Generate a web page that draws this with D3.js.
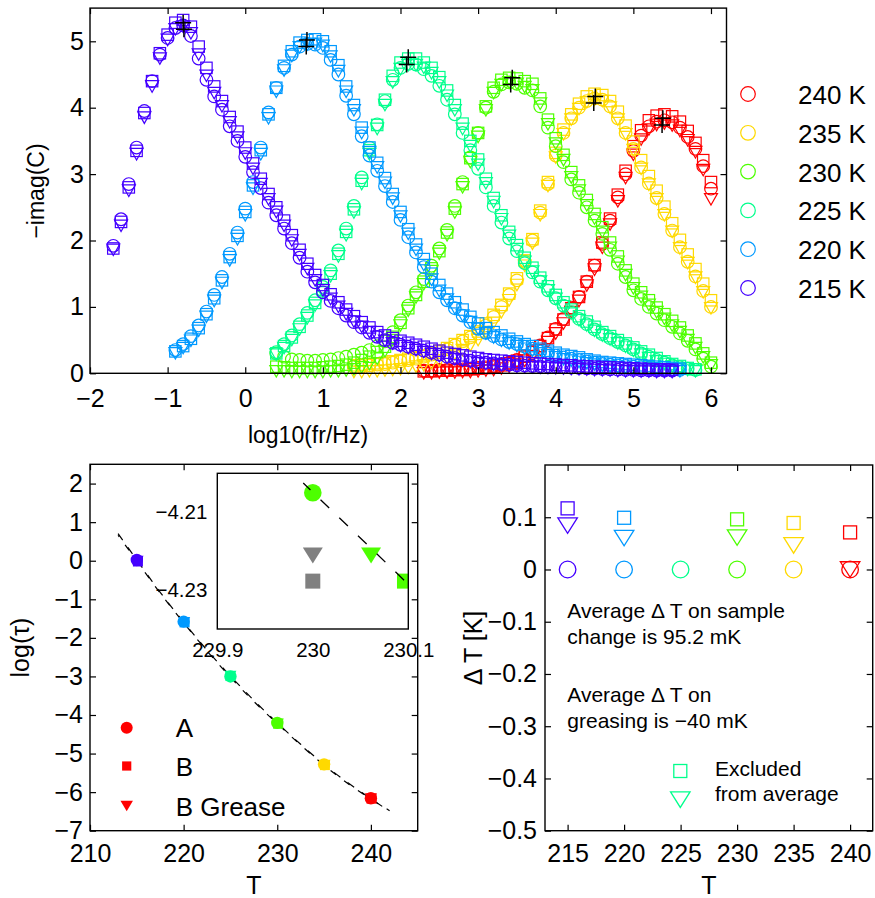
<!DOCTYPE html>
<html>
<head>
<meta charset="utf-8">
<script src="https://cdn.jsdelivr.net/npm/d3@7"></script>
<style>
html,body{margin:0;padding:0;background:#fff;}
svg{display:block;}
</style>
</head>
<body>
<svg id="chart" width="875" height="898"></svg>
<script>
// ================= DATA =================
// ---- top panel: loss peaks, x = log10(fr/Hz), y = -imag(C) ----
const temperatures = [240, 235, 230, 225, 220, 215];
const tempColors = ['#ff0000', '#ffd900', '#4dff00', '#00ff8c', '#0099ff', '#4400ff'];
const legendLabels = ['240 K', '235 K', '230 K', '225 K', '220 K', '215 K'];

const logf215 = [-1.7,-1.6,-1.5,-1.4,-1.3,-1.2,-1.1,-1.0,-0.9,-0.8,-0.7,-0.6,-0.5,-0.4,-0.3,-0.2,-0.1,0.0,0.1,0.2,0.3,0.4,0.5,0.6,0.7,0.8,0.9,1.0,1.1,1.2,1.3,1.4,1.5,1.6,1.7,1.8,1.9,2.0,2.1,2.2,2.3,2.4,2.5,2.6,2.7,2.8,2.9,3.0,3.1,3.2,3.3,3.4,3.5,3.6,3.7,3.8,3.9,4.0,4.1,4.2,4.3,4.4,4.5,4.6,4.7,4.8,4.9,5.0,5.1,5.2,5.3,5.4,5.5];
const circ215 = [1.92,2.32,2.85,3.40,3.95,4.40,4.80,5.05,5.20,5.24,5.08,4.74,4.42,4.17,3.97,3.72,3.50,3.26,3.03,2.79,2.57,2.38,2.18,1.96,1.74,1.53,1.37,1.22,1.09,0.98,0.87,0.77,0.69,0.61,0.55,0.50,0.46,0.43,0.40,0.37,0.34,0.31,0.28,0.25,0.23,0.21,0.19,0.17,0.16,0.15,0.14,0.13,0.12,0.115,0.11,0.105,0.10,0.095,0.09,0.085,0.08,0.075,0.07,0.065,0.06,0.055,0.05,0.05,0.045,0.045,0.04,0.04,0.04];
const sq215 = [1.88,2.28,2.80,3.35,3.92,4.40,4.82,5.10,5.28,5.32,5.22,4.92,4.60,4.32,4.10,3.86,3.64,3.40,3.16,2.93,2.70,2.50,2.30,2.08,1.86,1.65,1.48,1.33,1.19,1.07,0.96,0.86,0.77,0.69,0.62,0.57,0.53,0.49,0.46,0.43,0.40,0.37,0.34,0.31,0.29,0.27,0.25,0.23,0.21,0.20,0.19,0.18,0.17,0.16,0.15,0.145,0.14,0.13,0.125,0.12,0.11,0.105,0.10,0.095,0.09,0.085,0.08,0.075,0.07,0.065,0.06,0.06,0.055];
const tri215 = [1.86,2.22,2.75,3.30,3.85,4.32,4.74,5.02,5.18,5.22,5.12,4.80,4.48,4.22,4.02,3.78,3.55,3.31,3.08,2.85,2.62,2.43,2.22,2.00,1.78,1.57,1.40,1.25,1.12,1.00,0.89,0.78,0.70,0.62,0.55,0.49,0.45,0.41,0.38,0.35,0.32,0.29,0.26,0.23,0.21,0.19,0.17,0.15,0.14,0.13,0.12,0.11,0.10,0.095,0.09,0.085,0.08,0.075,0.07,0.065,0.06,0.055,0.05,0.045,0.04,0.035,0.03,0.03,0.025,0.025,0.02,0.02,0.02];

const logf220 = [-0.9,-0.8,-0.7,-0.6,-0.5,-0.4,-0.3,-0.2,-0.1,0.0,0.1,0.2,0.3,0.4,0.5,0.6,0.7,0.8,0.9,1.0,1.1,1.2,1.3,1.4,1.5,1.6,1.7,1.8,1.9,2.0,2.1,2.2,2.3,2.4,2.5,2.6,2.7,2.8,2.9,3.0,3.1,3.2,3.3,3.4,3.5,3.6,3.7,3.8,3.9,4.0,4.1,4.2,4.3,4.4,4.5,4.6,4.7,4.8,4.9,5.0,5.1,5.2,5.3,5.4,5.5,5.6];
const circ220 = [0.35,0.44,0.56,0.72,0.93,1.18,1.45,1.80,2.12,2.48,2.88,3.40,3.93,4.30,4.60,4.80,4.92,4.96,4.95,4.90,4.72,4.50,4.18,3.90,3.57,3.28,3.05,2.82,2.58,2.31,2.05,1.82,1.60,1.38,1.22,1.10,0.98,0.87,0.77,0.67,0.61,0.56,0.51,0.47,0.44,0.40,0.37,0.33,0.30,0.27,0.24,0.22,0.20,0.18,0.16,0.14,0.13,0.12,0.11,0.10,0.09,0.08,0.07,0.06,0.05,0.05];
const sq220 = [0.33,0.41,0.52,0.68,0.89,1.13,1.40,1.75,2.07,2.43,2.83,3.36,3.90,4.30,4.63,4.85,4.98,5.02,5.03,5.00,4.85,4.64,4.32,4.04,3.70,3.40,3.17,2.94,2.70,2.43,2.17,1.94,1.72,1.50,1.33,1.20,1.07,0.96,0.85,0.75,0.68,0.62,0.57,0.52,0.48,0.44,0.41,0.37,0.34,0.31,0.28,0.26,0.24,0.21,0.19,0.17,0.16,0.15,0.14,0.13,0.12,0.11,0.10,0.09,0.08,0.07];
const tri220 = [0.30,0.38,0.49,0.64,0.85,1.09,1.36,1.70,2.02,2.38,2.78,3.30,3.84,4.24,4.56,4.78,4.91,4.95,4.96,4.93,4.77,4.55,4.24,3.96,3.62,3.33,3.10,2.87,2.63,2.36,2.10,1.86,1.63,1.41,1.24,1.11,0.98,0.87,0.77,0.67,0.60,0.54,0.49,0.45,0.41,0.37,0.34,0.30,0.27,0.24,0.21,0.19,0.17,0.15,0.13,0.11,0.10,0.09,0.08,0.07,0.06,0.05,0.04,0.04,0.03,0.03];

const logf225 = [0.4,0.5,0.6,0.7,0.8,0.9,1.0,1.1,1.2,1.3,1.4,1.5,1.6,1.7,1.8,1.9,2.0,2.1,2.2,2.3,2.4,2.5,2.6,2.7,2.8,2.9,3.0,3.1,3.2,3.3,3.4,3.5,3.6,3.7,3.8,3.9,4.0,4.1,4.2,4.3,4.4,4.5,4.6,4.7,4.8,4.9,5.0,5.1,5.2,5.3,5.4,5.5,5.6,5.7,5.8];
const circ225 = [0.32,0.44,0.57,0.74,0.91,1.10,1.30,1.55,1.85,2.18,2.52,2.95,3.40,3.75,4.10,4.42,4.60,4.66,4.65,4.58,4.48,4.33,4.12,3.90,3.62,3.36,3.08,2.80,2.52,2.27,2.03,1.84,1.66,1.52,1.38,1.25,1.13,1.02,0.92,0.82,0.74,0.66,0.59,0.53,0.47,0.42,0.36,0.30,0.25,0.20,0.16,0.12,0.09,0.07,0.05];
const sq225 = [0.30,0.41,0.54,0.70,0.87,1.06,1.26,1.50,1.80,2.13,2.47,2.90,3.36,3.74,4.12,4.48,4.68,4.74,4.74,4.68,4.60,4.46,4.26,4.04,3.76,3.50,3.22,2.93,2.64,2.38,2.13,1.93,1.74,1.59,1.44,1.31,1.18,1.07,0.96,0.86,0.78,0.70,0.62,0.56,0.50,0.45,0.39,0.33,0.28,0.23,0.18,0.14,0.11,0.08,0.06];
const tri225 = [0.28,0.38,0.50,0.66,0.83,1.02,1.22,1.46,1.76,2.08,2.42,2.85,3.30,3.68,4.04,4.38,4.58,4.64,4.64,4.60,4.52,4.38,4.18,3.96,3.68,3.42,3.14,2.86,2.58,2.32,2.07,1.87,1.68,1.53,1.38,1.25,1.12,1.01,0.90,0.80,0.72,0.64,0.57,0.51,0.45,0.40,0.34,0.28,0.23,0.18,0.14,0.10,0.07,0.05,0.03];

const logf230 = [0.4,0.5,0.6,0.7,0.8,0.9,1.0,1.1,1.2,1.3,1.4,1.5,1.6,1.7,1.8,1.9,2.0,2.1,2.2,2.3,2.4,2.5,2.6,2.7,2.8,2.9,3.0,3.1,3.2,3.3,3.4,3.5,3.6,3.7,3.8,3.9,4.0,4.1,4.2,4.3,4.4,4.5,4.6,4.7,4.8,4.9,5.0,5.1,5.2,5.3,5.4,5.5,5.6,5.7,5.8,5.9,6.0];
const circ230 = [0.30,0.25,0.21,0.20,0.19,0.19,0.20,0.21,0.23,0.25,0.28,0.31,0.35,0.41,0.48,0.62,0.80,1.02,1.22,1.42,1.62,1.88,2.16,2.52,2.88,3.25,3.62,4.00,4.24,4.35,4.38,4.36,4.30,4.26,4.02,3.70,3.42,3.18,2.92,2.72,2.50,2.30,2.10,1.86,1.65,1.45,1.25,1.12,1.00,0.90,0.80,0.70,0.60,0.49,0.36,0.22,0.10];
const sq230 = [0.10,0.09,0.08,0.08,0.08,0.08,0.09,0.10,0.11,0.13,0.16,0.20,0.25,0.32,0.40,0.55,0.76,0.98,1.18,1.38,1.58,1.84,2.12,2.48,2.85,3.24,3.62,4.02,4.30,4.42,4.45,4.44,4.40,4.36,4.14,3.82,3.54,3.29,3.03,2.83,2.61,2.40,2.20,1.97,1.76,1.55,1.35,1.22,1.10,0.99,0.89,0.79,0.69,0.57,0.45,0.30,0.16];
const tri230 = [0.03,0.03,0.02,0.02,0.02,0.02,0.02,0.03,0.03,0.04,0.06,0.09,0.14,0.22,0.33,0.50,0.72,0.94,1.14,1.34,1.54,1.80,2.08,2.42,2.80,3.18,3.56,3.96,4.22,4.34,4.38,4.36,4.31,4.26,4.06,3.75,3.46,3.21,2.95,2.75,2.53,2.33,2.13,1.89,1.68,1.48,1.28,1.15,1.03,0.92,0.82,0.72,0.62,0.50,0.38,0.24,0.12];

const logf235 = [1.4,1.5,1.6,1.7,1.8,1.9,2.0,2.1,2.2,2.3,2.4,2.5,2.6,2.7,2.8,2.9,3.0,3.1,3.2,3.3,3.4,3.5,3.6,3.7,3.8,3.9,4.0,4.1,4.2,4.3,4.4,4.5,4.6,4.7,4.8,4.9,5.0,5.1,5.2,5.3,5.4,5.5,5.6,5.7,5.8,5.9,6.0];
const circ235 = [0.10,0.11,0.12,0.13,0.14,0.16,0.18,0.20,0.22,0.25,0.28,0.32,0.36,0.42,0.48,0.54,0.60,0.72,0.85,1.00,1.18,1.40,1.68,2.00,2.42,2.85,3.28,3.62,3.84,4.00,4.10,4.14,4.12,4.02,3.84,3.62,3.38,3.10,2.86,2.64,2.40,2.15,1.90,1.68,1.46,1.24,1.00];
const sq235 = [0.12,0.13,0.14,0.15,0.16,0.18,0.20,0.22,0.24,0.27,0.30,0.34,0.38,0.44,0.50,0.56,0.63,0.75,0.88,1.03,1.20,1.43,1.70,2.02,2.45,2.88,3.32,3.67,3.90,4.06,4.17,4.21,4.19,4.10,3.94,3.73,3.49,3.21,2.97,2.75,2.51,2.26,2.01,1.79,1.57,1.35,1.10];
const tri235 = [0.02,0.02,0.03,0.03,0.04,0.05,0.06,0.08,0.10,0.12,0.15,0.19,0.23,0.29,0.35,0.42,0.50,0.62,0.76,0.92,1.10,1.33,1.62,1.95,2.38,2.82,3.25,3.60,3.82,3.98,4.08,4.12,4.10,4.00,3.82,3.60,3.36,3.08,2.84,2.62,2.38,2.13,1.88,1.66,1.44,1.22,0.98];

const logf240 = [2.3,2.4,2.5,2.6,2.7,2.8,2.9,3.0,3.1,3.2,3.3,3.4,3.5,3.6,3.7,3.8,3.9,4.0,4.1,4.2,4.3,4.4,4.5,4.6,4.7,4.8,4.9,5.0,5.1,5.2,5.3,5.4,5.5,5.6,5.7,5.8,5.9,6.0];
const circ240 = [0.04,0.04,0.05,0.05,0.06,0.06,0.07,0.08,0.09,0.11,0.13,0.16,0.20,0.26,0.33,0.42,0.54,0.67,0.82,0.99,1.15,1.38,1.62,1.95,2.30,2.65,3.00,3.35,3.58,3.72,3.79,3.81,3.78,3.70,3.56,3.38,3.12,2.78];
const sq240 = [0.03,0.03,0.04,0.04,0.05,0.05,0.06,0.07,0.08,0.10,0.12,0.15,0.19,0.25,0.32,0.41,0.53,0.66,0.81,0.98,1.15,1.38,1.63,1.97,2.33,2.69,3.05,3.42,3.66,3.81,3.88,3.90,3.87,3.79,3.65,3.47,3.21,2.88];
const tri240 = [0.0,0.0,0.01,0.01,0.01,0.02,0.02,0.03,0.04,0.05,0.07,0.10,0.14,0.19,0.26,0.35,0.47,0.60,0.75,0.92,1.09,1.32,1.56,1.89,2.24,2.59,2.94,3.29,3.52,3.67,3.74,3.76,3.73,3.65,3.51,3.33,3.06,2.62];

// fitted peak positions (black +)
const peakLogf = [5.38, 5.37, 4.51, 4.49, 3.44, 3.42, 2.10, 2.08, 0.795, 0.786, -0.80, -0.79];
const peakVal  = [3.84, 3.74, 4.17, 4.07, 4.45, 4.35, 4.76, 4.65, 5.02, 4.92, 5.28, 5.18];

const xTicksTop = [-2, -1, 0, 1, 2, 3, 4, 5, 6];
const yTicksTop = [0, 1, 2, 3, 4, 5];

// ---- bottom-left: log(tau) vs T ----
const tauT = [215, 220, 225, 230, 235, 240];
const logTauA = [0.02, -1.58, -3.00, -4.205, -5.28, -6.16];
const tauTB = [215.118, 220.10, 225.0, 230.096, 235.089, 240.071];
const logTauB = [-0.02, -1.60, -2.99, -4.2277, -5.30, -6.17];
const tauTG = [215.084, 220.06, 225.0, 230.061, 235.046, 240.0];
const logTauG = [0.00, -1.59, -2.98, -4.2211, -5.29, -6.16];
const uncorrT = [230, 230];            // grey points in inset (before shift)
const uncorrLogTau = [-4.2277, -4.2211];
const fitT = [213, 215, 217.5, 220, 222.5, 225, 227.5, 230, 232.5, 235, 237.5, 240, 242];
const fitLogTau1 = [0.70, 0.02, -0.82, -1.59, -2.32, -2.99, -3.62, -4.205, -4.76, -5.28, -5.75, -6.17, -6.50];
const fitLogTau2 = [0.66, -0.01, -0.84, -1.61, -2.34, -3.02, -3.65, -4.225, -4.78, -5.30, -5.77, -6.18, -6.48];
const insetFitT = [229.99, 230.10];
const insetFitLogTau = [-4.2025, -4.2285];
const xTicksL = [210, 220, 230, 240];
const yTicksL = [-7, -6, -5, -4, -3, -2, -1, 0, 1, 2];
const xTicksInset = [229.9, 230, 230.1];
const yTicksInset = [-4.21, -4.23];
const legendL = ['A', 'B', 'B Grease'];

// ---- bottom-right: Delta T vs T ----
const dT_T = [215, 220, 225, 230, 235, 240];
const dTcircle = [0, 0, 0, 0, 0, 0];
const dTsquare = [0.117, 0.099, null, 0.096, 0.089, 0.071];
const dTtri = [0.084, 0.060, null, 0.061, 0.046, 0.0];
const xTicksR = [215, 220, 225, 230, 235, 240];
const yTicksR = [-0.5, -0.4, -0.3, -0.2, -0.1, 0, 0.1];

// ================= DRAWING =================
const FONT = '"Liberation Sans", Arial, Helvetica, sans-serif';
const svg = d3.select('#chart');
svg.append('rect').attr('width', 875).attr('height', 898).attr('fill', '#fff');

const triPath = (cx, cy, w, h) => `M${cx - w / 2},${cy - h / 2}L${cx + w / 2},${cy - h / 2}L${cx},${cy + h / 2}Z`;

function drawAxes(g, x, y, o) {
  const [x0, x1] = x.range();
  const [y0, y1] = y.range();
  const tl = o.tl || 6;
  const st = s => { s.select('.domain').remove(); s.attr('font-family', FONT).attr('font-size', o.fs);
    s.selectAll('.tick line').attr('stroke', '#000').attr('stroke-width', 1.2); s.selectAll('.tick text').attr('fill', '#000'); };
  g.append('g').attr('transform', `translate(0,${y0})`)
    .call(d3.axisBottom(x).tickValues(o.xt).tickSizeInner(-tl).tickSizeOuter(0).tickPadding(o.xpad).tickFormat(o.xf)).call(st);
  g.append('g').attr('transform', `translate(${x0},0)`)
    .call(d3.axisLeft(y).tickValues(o.yt).tickSizeInner(-tl).tickSizeOuter(0).tickPadding(o.ypad).tickFormat(o.yf)).call(st);
  if (o.mirror) {
    g.append('g').attr('transform', `translate(0,${y1})`)
      .call(d3.axisTop(x).tickValues(o.xt).tickSizeInner(-tl).tickSizeOuter(0).tickFormat(() => '')).call(st);
    g.append('g').attr('transform', `translate(${x1},0)`)
      .call(d3.axisRight(y).tickValues(o.yt).tickSizeInner(-tl).tickSizeOuter(0).tickFormat(() => '')).call(st);
  }
  g.append('rect').attr('x', x0).attr('y', y1).attr('width', x1 - x0).attr('height', y0 - y1)
    .attr('fill', 'none').attr('stroke', '#000').attr('stroke-width', 1.4);
}

// ---------- TOP PANEL ----------
const xT = d3.scaleLinear().domain([-2, 6.2]).range([90, 726.5]);
const yT = d3.scaleLinear().domain([0, 5.5]).range([373.3, 8.1]);
const gTop = svg.append('g');

const sets = [
  { x: logf240, c: circ240, s: sq240, t: tri240 },
  { x: logf235, c: circ235, s: sq235, t: tri235 },
  { x: logf230, c: circ230, s: sq230, t: tri230 },
  { x: logf225, c: circ225, s: sq225, t: tri225 },
  { x: logf220, c: circ220, s: sq220, t: tri220 },
  { x: logf215, c: circ215, s: sq215, t: tri215 }
];
const gData = gTop.append('g').attr('fill', 'none').attr('stroke-width', 1.2);
sets.forEach((set, i) => {
  const col = tempColors[i];
  const g = gData.append('g').attr('stroke', col);
  const n = set.x.length;
  const pc = d3.range(n).filter(k => set.c[k] != null).map(k => [set.x[k], set.c[k]]);
  const ps = d3.range(n).filter(k => set.s[k] != null).map(k => [set.x[k], set.s[k]]);
  const pt = d3.range(n).filter(k => set.t[k] != null).map(k => [set.x[k], set.t[k]]);
  g.selectAll('circle.c').data(pc).join('circle').attr('class', 'c')
    .attr('cx', d => xT(d[0])).attr('cy', d => yT(d[1])).attr('r', 6.3);
  g.selectAll('rect.s').data(ps).join('rect').attr('class', 's')
    .attr('x', d => xT(d[0]) - 5.7).attr('y', d => yT(d[1]) - 5.7).attr('width', 11.4).attr('height', 11.4);
  g.selectAll('path.t').data(pt).join('path').attr('class', 't')
    .attr('d', d => triPath(xT(d[0]), yT(d[1]), 13, 11.5));
});
// peak markers
gTop.append('g').attr('stroke', '#000').attr('stroke-width', 1.5)
  .selectAll('path').data(d3.range(peakLogf.length)).join('path')
  .attr('d', k => { const cx = xT(peakLogf[k]), cy = yT(peakVal[k]); return `M${cx - 8},${cy}H${cx + 8}M${cx},${cy - 8}V${cy + 8}`; });

drawAxes(gTop, xT, yT, { xt: xTicksTop, yt: yTicksTop, fs: 25, xpad: 16, ypad: 6, xf: d3.format('d'), yf: d3.format('d'), mirror: true });

gTop.append('text').attr('x', 308).attr('y', 443).attr('text-anchor', 'middle')
  .attr('font-family', FONT).attr('font-size', 23).text('log10(fr/Hz)');
gTop.append('text').attr('transform', 'translate(44,191) rotate(-90)').attr('text-anchor', 'middle')
  .attr('font-family', FONT).attr('font-size', 23).text('\u2212imag(C)');

// legend (top)
const gLeg = svg.append('g');
legendLabels.forEach((lab, i) => {
  const yy = 94 + i * 38.8;
  gLeg.append('circle').attr('cx', 748).attr('cy', yy).attr('r', 7.3)
    .attr('fill', 'none').attr('stroke', tempColors[i]).attr('stroke-width', 1.2);
  gLeg.append('text').attr('x', 798).attr('y', yy + 10).attr('font-family', FONT).attr('font-size', 26).text(lab);
});

// ---------- BOTTOM-LEFT PANEL ----------
const xL = d3.scaleLinear().domain([210, 245]).range([90, 417.7]);
const yL = d3.scaleLinear().domain([-7, 2.5]).range([830.7, 464.3]);
const gL = svg.append('g');
const colorByT = T => tempColors[temperatures.indexOf(T)];

const lineL = d3.line().x(d => xL(d[0])).y(d => yL(d[1])).curve(d3.curveNatural);
gL.append('path').attr('d', lineL(fitT.map((t, k) => [t, fitLogTau1[k]])))
  .attr('fill', 'none').attr('stroke', '#000').attr('stroke-width', 1.2).attr('stroke-dasharray', '8,9');
gL.append('path').attr('d', lineL(fitT.map((t, k) => [t, fitLogTau2[k]])))
  .attr('fill', 'none').attr('stroke', '#000').attr('stroke-width', 1.2).attr('stroke-dasharray', '7,10').attr('stroke-dashoffset', 5);

tauT.forEach((T, k) => {
  const col = colorByT(T);
  gL.append('path').attr('d', triPath(xL(tauTG[k]), yL(logTauG[k]), 12, 10)).attr('fill', col);
  gL.append('rect').attr('x', xL(tauTB[k]) - 5).attr('y', yL(logTauB[k]) - 5).attr('width', 10).attr('height', 10).attr('fill', col);
  gL.append('circle').attr('cx', xL(T)).attr('cy', yL(logTauA[k])).attr('r', 6.2).attr('fill', col);
});

drawAxes(gL, xL, yL, { xt: xTicksL, yt: yTicksL, fs: 25, xpad: 14, ypad: 7, xf: d3.format('d'), yf: d3.format('d'), mirror: true });

// legend (bottom-left)
const legY = [727.7, 766, 806];
gL.append('circle').attr('cx', 126.7).attr('cy', legY[0]).attr('r', 6).attr('fill', '#ff0000');
gL.append('rect').attr('x', 126.7 - 4.6).attr('y', legY[1] - 4.6).attr('width', 9.2).attr('height', 9.2).attr('fill', '#ff0000');
gL.append('path').attr('d', triPath(126.7, legY[2], 12.5, 10.5)).attr('fill', '#ff0000');
legendL.forEach((lab, i) => {
  gL.append('text').attr('x', 175.7).attr('y', legY[i] + 9.5).attr('font-family', FONT).attr('font-size', 26).text(lab);
});

gL.append('text').attr('x', 254).attr('y', 894).attr('text-anchor', 'middle')
  .attr('font-family', FONT).attr('font-size', 25).text('T');
gL.append('text').attr('transform', 'translate(29,647.5) rotate(-90)').attr('text-anchor', 'middle')
  .attr('font-family', FONT).attr('font-size', 25).text('log(\u03C4)');

// inset
const xI = d3.scaleLinear().domain([229.9, 230.1]).range([217.3, 408.3]);
const yI = d3.scaleLinear().domain([-4.24, -4.2]).range([629, 473.3]);
const gI = svg.append('g');
gI.append('rect').attr('x', 217.3).attr('y', 473.3).attr('width', 191).attr('height', 155.7).attr('fill', '#fff');
svg.append('clipPath').attr('id', 'clipInset').append('rect')
  .attr('x', 217.3).attr('y', 473.3).attr('width', 191).attr('height', 155.7);
const gIc = gI.append('g').attr('clip-path', 'url(#clipInset)');
// grey uncorrected
gIc.append('rect').attr('x', xI(uncorrT[0]) - 7.5).attr('y', yI(uncorrLogTau[0]) - 7.5).attr('width', 15).attr('height', 15).attr('fill', '#808080');
gIc.append('path').attr('d', triPath(xI(uncorrT[1]), yI(uncorrLogTau[1]), 20, 16)).attr('fill', '#808080');
// corrected (230 K)
const k230 = tauT.indexOf(230);
const g230 = colorByT(230);
gIc.append('circle').attr('cx', xI(tauT[k230])).attr('cy', yI(logTauA[k230])).attr('r', 8.8).attr('fill', g230);
gIc.append('path').attr('d', triPath(xI(tauTG[k230]), yI(logTauG[k230]), 20, 16)).attr('fill', g230);
gIc.append('rect').attr('x', xI(tauTB[k230]) - 7.5).attr('y', yI(logTauB[k230]) - 7.5).attr('width', 15).attr('height', 15).attr('fill', g230);
// dashed fit over markers (as in reference)
gIc.append('path').attr('d', d3.line().x(d => xI(d[0])).y(d => yI(d[1]))(insetFitT.map((t, k) => [t, insetFitLogTau[k]])))
  .attr('fill', 'none').attr('stroke', '#000').attr('stroke-width', 1.3).attr('stroke-dasharray', '12,14').attr('stroke-dashoffset', 2);
gI.append('rect').attr('x', 217.3).attr('y', 473.3).attr('width', 191).attr('height', 155.7)
  .attr('fill', 'none').attr('stroke', '#000').attr('stroke-width', 1.4);
const gIx = gI.append('g').attr('transform', 'translate(0,629)')
  .call(d3.axisBottom(xI).tickValues(xTicksInset).tickSize(0).tickPadding(13).tickFormat(d => d === 230 ? '230' : d3.format('.1f')(d)));
gIx.select('.domain').remove();
gIx.attr('font-family', FONT).attr('font-size', 20.5);
const gIy = gI.append('g').attr('transform', 'translate(217.3,0)')
  .call(d3.axisLeft(yI).tickValues(yTicksInset).tickSize(0).tickPadding(10).tickFormat(d3.format('.2f')));
gIy.select('.domain').remove();
gIy.attr('font-family', FONT).attr('font-size', 20.5);
gI.selectAll('.tick text').attr('fill', '#000');

// ---------- BOTTOM-RIGHT PANEL ----------
const xR = d3.scaleLinear().domain([213, 242]).range([545, 872.7]);
const yR = d3.scaleLinear().domain([-0.5, 0.2]).range([830.7, 465]);
const gR = svg.append('g');
drawAxes(gR, xR, yR, { xt: xTicksR, yt: yTicksR, fs: 25, xpad: 14, ypad: 8, xf: d3.format('d'),
  yf: d => d === 0 ? '0' : d3.format('.1f')(d), mirror: true });

const gRd = gR.append('g').attr('fill', 'none').attr('stroke-width', 1.3);
dT_T.forEach((T, k) => {
  const col = colorByT(T);
  if (dTcircle[k] != null) gRd.append('circle').attr('cx', xR(T)).attr('cy', yR(dTcircle[k])).attr('r', 8.3).attr('stroke', col);
  if (dTsquare[k] != null) gRd.append('rect').attr('x', xR(T) - 6.5).attr('y', yR(dTsquare[k]) - 6.5).attr('width', 13).attr('height', 13).attr('stroke', col);
  if (dTtri[k] != null) gRd.append('path').attr('d', triPath(xR(T), yR(dTtri[k]), 19.5, 15.5)).attr('stroke', col);
});

const ann = [
  ['Average \u0394 T on sample', 618.3], ['change is 95.2 mK', 644.3],
  ['Average \u0394 T on', 702], ['greasing is \u221240 mK', 728]
];
ann.forEach(([t, y]) => gR.append('text').attr('x', 567.3).attr('y', y).attr('font-family', FONT).attr('font-size', 21).text(t));

const c225 = colorByT(225);
gRd.append('rect').attr('x', 680.3 - 6.5).attr('y', 771 - 6.5).attr('width', 13).attr('height', 13).attr('stroke', c225);
gRd.append('path').attr('d', triPath(680.3, 799.7, 19.5, 15.5)).attr('stroke', c225);
gR.append('text').attr('x', 715).attr('y', 776).attr('font-family', FONT).attr('font-size', 21).text('Excluded');
gR.append('text').attr('x', 715).attr('y', 801).attr('font-family', FONT).attr('font-size', 21).text('from average');

gR.append('text').attr('x', 709).attr('y', 894).attr('text-anchor', 'middle')
  .attr('font-family', FONT).attr('font-size', 25).text('T');
gR.append('text').attr('transform', 'translate(482,648) rotate(-90)').attr('text-anchor', 'middle')
  .attr('font-family', FONT).attr('font-size', 25).text('\u0394 T [K]');
</script>
</body>
</html>
